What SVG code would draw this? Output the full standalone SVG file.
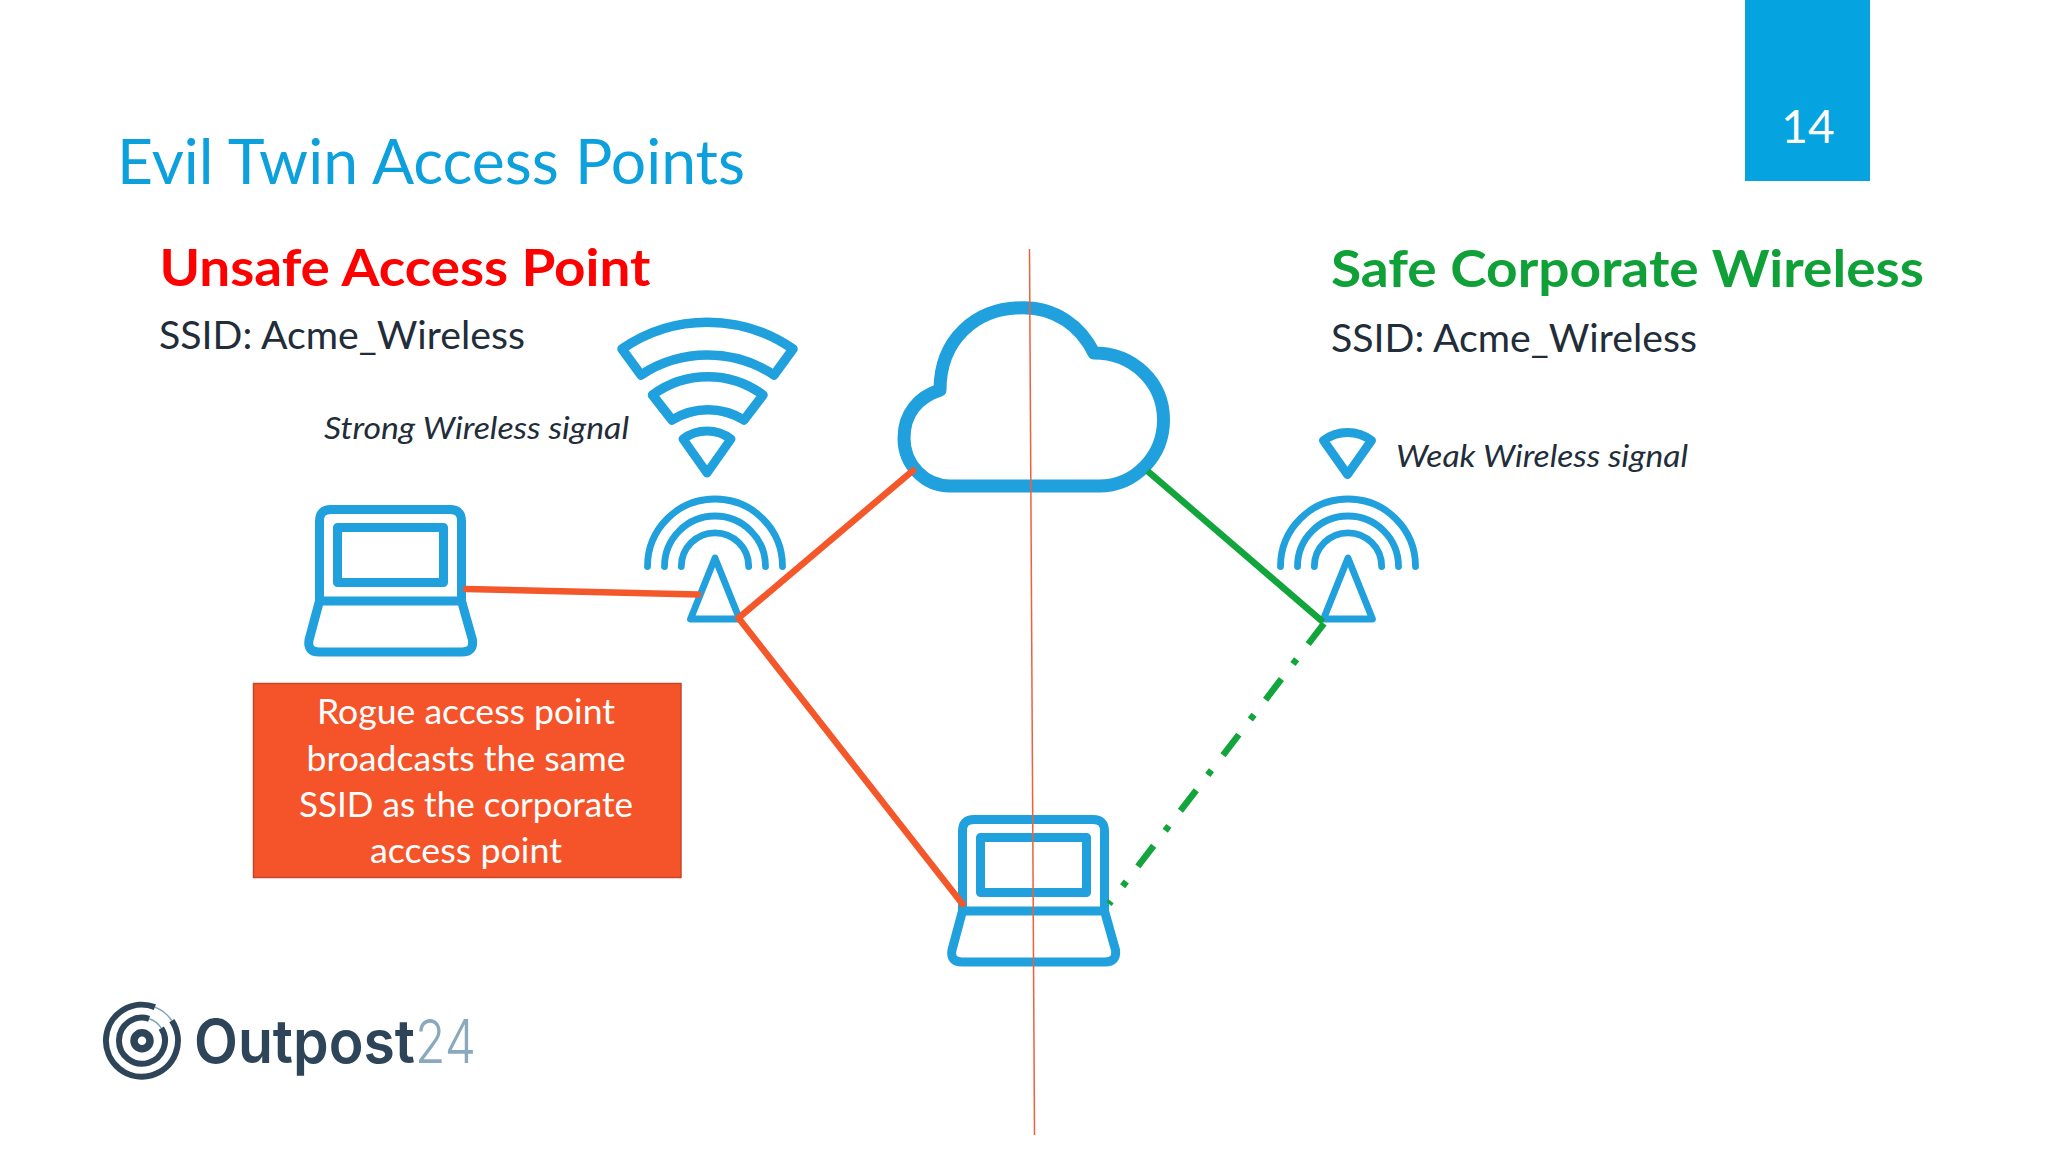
<svg xmlns="http://www.w3.org/2000/svg" xmlns:xlink="http://www.w3.org/1999/xlink" width="2048" height="1152" viewBox="0 0 2048 1152">
<style>
.lato{font-family:"Lato","Open Sans","Liberation Sans",sans-serif}
.ink{fill:#222d3a}
.ic{fill:none;stroke:#20a0dc;stroke-linejoin:round;stroke-linecap:round}
.red{stroke:#f4572a;stroke-width:6.5;fill:none;stroke-linecap:round}
.grn{stroke:#12a53c;stroke-width:6.5;fill:none}
.box{font-size:34px;fill:#fff;text-anchor:middle}
</style>
<defs>
<g id="laptop" class="ic" stroke-width="9">
<path d="M319.5,601 V521 Q319.5,509.5 331,509.5 H450 Q461.5,509.5 461.5,521 V601"/>
<rect x="337.5" y="527.5" width="106" height="55"/>
<path d="M319.5,601 H461.5 L472.5,640 Q474,652 462,652 H319 Q307,652 309,640 Z"/>
</g>
<g id="antenna" class="ic" stroke-width="6.8">
<path d="M715,558 L690.5,619 H739.5 Z"/>
<path d="M647.5,566.5 A67.5,67.5 0 0 1 782.5,566.5"/>
<path d="M664.5,566.5 A50.5,50.5 0 0 1 765.5,566.5"/>
<path d="M681.3,566.5 A33.7,33.7 0 0 1 748.7,566.5"/>
</g>
<path id="wave" class="ic" stroke-width="9" d="M683,439 A40,40 0 0 1 731,439 L707,473 Z"/>
</defs>
<rect width="2048" height="1152" fill="#ffffff"/>
<rect x="1745" y="0" width="125" height="181" fill="#05a3e0"/>
<text class="lato" x="1808" y="143" font-size="46" fill="#ffffff" text-anchor="middle">14</text>
<text class="lato" x="117" y="184" font-size="62" font-weight="400" fill="#0ca0dc" textLength="628" lengthAdjust="spacingAndGlyphs">Evil Twin Access Points</text>
<text class="lato" x="159.5" y="286" font-size="52" font-weight="700" fill="#ff0000" textLength="491" lengthAdjust="spacingAndGlyphs">Unsafe Access Point</text>
<text class="lato ink" x="159" y="348.5" font-size="38" textLength="366" lengthAdjust="spacingAndGlyphs">SSID: Acme_Wireless</text>
<text class="lato ink" x="324" y="439" font-size="30" font-style="italic" textLength="305" lengthAdjust="spacingAndGlyphs">Strong Wireless signal</text>
<text class="lato" x="1331" y="286.5" font-size="52" font-weight="700" fill="#10a038" textLength="593" lengthAdjust="spacingAndGlyphs">Safe Corporate Wireless</text>
<text class="lato ink" x="1331" y="351.5" font-size="38" textLength="366" lengthAdjust="spacingAndGlyphs">SSID: Acme_Wireless</text>
<text class="lato ink" x="1396" y="467" font-size="30" font-style="italic" textLength="292" lengthAdjust="spacingAndGlyphs">Weak Wireless signal</text>

<g id="strong-signal">
<path class="ic" stroke-width="9.5" d="M622,349 A150,150 0 0 1 793,349 L774,375 A121,121 0 0 0 641,375 Z"/>
<path class="ic" stroke-width="9.5" d="M652.5,395 A93,93 0 0 1 763,395 L744,420 A68,68 0 0 0 672,420 Z"/>
<use xlink:href="#wave" href="#wave"/>
</g>
<g id="weak-signal"><use xlink:href="#wave" href="#wave" x="640.5" y="1.5"/></g>
<g id="laptop-left"><use xlink:href="#laptop" href="#laptop"/></g>
<g id="laptop-center"><use xlink:href="#laptop" href="#laptop" x="643" y="310"/></g>
<g id="antenna-rogue"><use xlink:href="#antenna" href="#antenna"/></g>
<g id="antenna-corporate"><use xlink:href="#antenna" href="#antenna" x="633"/></g>
<g id="cloud">
<path class="ic" stroke-width="13" d="M950,486 H1099 C1135,486 1163.5,456 1163.5,420 C1163.5,382 1133,353 1094,353 C1080,325 1055,307.7 1023,307.7 C975,307.7 940,340 940,390 C918,397 904,414 904,438 C904,465 925,486 950,486 Z"/>
</g>

<g id="connectors">
<path class="red" d="M466,589 L698,594.5"/>
<path class="red" d="M738.5,618 L913,470.5"/>
<path class="red" d="M738.5,618 L962.5,904"/>
<path class="grn" d="M1147.5,471 L1323,622"/>
<path class="grn" stroke-dasharray="26 19 6 19" d="M1324,623.5 L1109,904"/>
</g>

<g id="rogue-box">
<rect x="253.5" y="683.5" width="427.5" height="194" fill="#f5542a" stroke="#c4472a" stroke-width="1.5"/>
<text class="lato box" x="466" y="724" textLength="298" lengthAdjust="spacingAndGlyphs">Rogue access point</text>
<text class="lato box" x="466" y="770.5" textLength="319" lengthAdjust="spacingAndGlyphs">broadcasts the same</text>
<text class="lato box" x="466" y="817" textLength="334" lengthAdjust="spacingAndGlyphs">SSID as the corporate</text>
<text class="lato box" x="466" y="863" textLength="192" lengthAdjust="spacingAndGlyphs">access point</text>
</g>
<path id="divider" d="M1029.5,249 L1034.5,1135" stroke="#f0603a" stroke-width="1.5" fill="none"/>
<g id="logo">
<path d="M171.8,1020.6 A36,36 0 1 1 154.9,1007.1" fill="none" stroke="#2d4459" stroke-width="6"/>
<path d="M154.9,1007.1 A36,36 0 0 1 171.8,1020.6" fill="none" stroke="#7fa3b8" stroke-width="1.5"/>
<path d="M161.3,1028.2 A23,23 0 1 1 149.1,1018.8" fill="none" stroke="#2d4459" stroke-width="6"/>
<path d="M149.1,1018.8 A23,23 0 0 1 161.3,1028.2" fill="none" stroke="#7fa3b8" stroke-width="1.5"/>
<circle cx="142" cy="1040.7" r="8" fill="none" stroke="#2d4459" stroke-width="7.5"/>
<text x="194" y="1063" font-family="Inter,'Liberation Sans',sans-serif" font-size="60" font-weight="600" fill="#2d4459" textLength="221" lengthAdjust="spacingAndGlyphs">Outpost</text>
<text x="415" y="1063" font-family="Inter,'Liberation Sans',sans-serif" font-size="60" font-weight="300" fill="#8aa9bc" textLength="61" lengthAdjust="spacingAndGlyphs">24</text>
</g>
</svg>
